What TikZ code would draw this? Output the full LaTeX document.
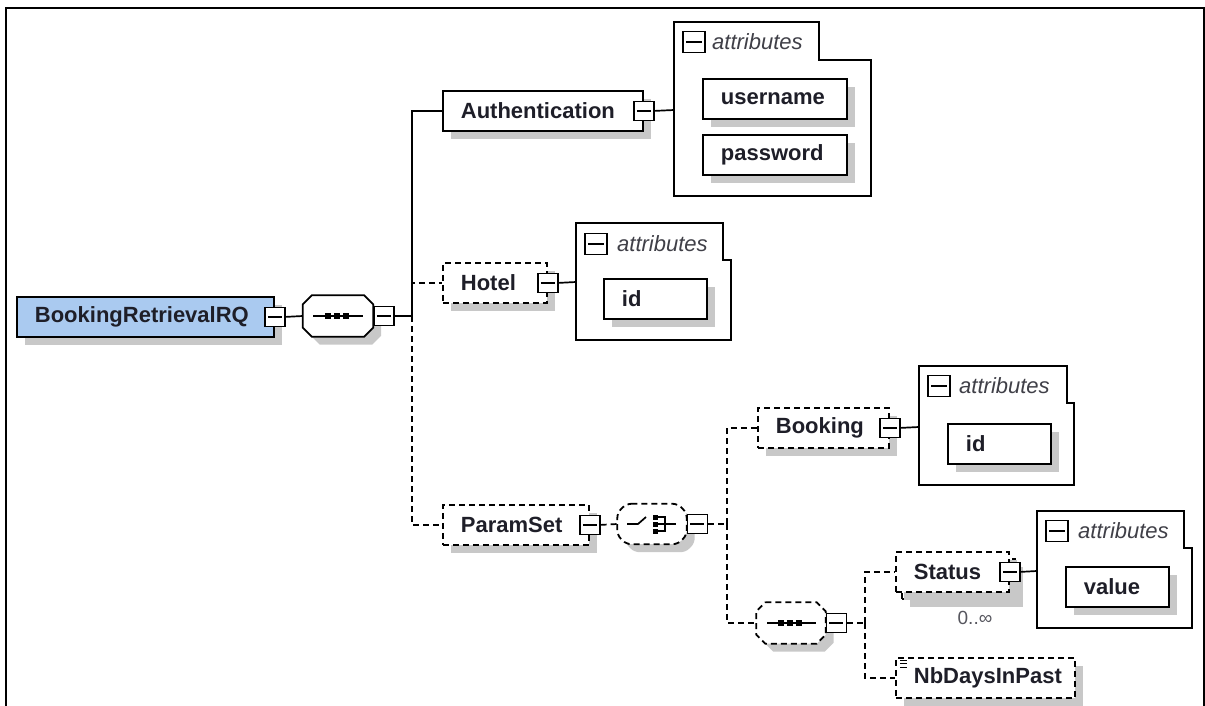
\documentclass[tikz,border=0pt]{standalone}
\usepackage{fontspec}
\setmainfont{Liberation Sans}
\usetikzlibrary{shadows}

\definecolor{rootblue}{RGB}{170,202,240}
\definecolor{shade}{RGB}{200,200,200}
\definecolor{ink}{RGB}{30,30,40}

\newcommand{\elfont}{\fontsize{22}{26}\selectfont\bfseries}
\newcommand{\hdfont}{\fontsize{22}{26}\selectfont\itshape}
% outline of a compositor node, cut at the corners
\newcommand{\compoline}[2]{%
  \draw[#2] ([xshift=9pt]#1.north west) -- ([xshift=-9pt]#1.north east)
    -- ([yshift=-9pt]#1.north east) -- ([yshift=9pt]#1.south east)
    -- ([xshift=-9pt]#1.south east) -- ([xshift=9pt]#1.south west)
    -- ([yshift=9pt]#1.south west) -- ([yshift=-9pt]#1.north west) -- cycle;}

\tikzset{
  boxshade/.style={general shadow={fill=shade, shadow xshift=8pt, shadow yshift=-8pt}},
  elem/.style={draw, line width=1.8pt, fill=white, boxshade, text=ink, font=\elfont,
    anchor=north west, minimum height=40pt, inner xsep=18pt, inner ysep=0pt,
    text width=#1, align=left},
  optelem/.style={elem=#1, dash pattern=on 6pt off 4pt},
  attr/.style={elem=#1},
  tog/.style={draw, line width=1.5pt, fill=white, minimum width=20pt, minimum height=19pt, inner sep=0pt,
    path picture={\draw[line width=1.5pt] ([xshift=3pt]path picture bounding box.west) -- ([xshift=-3pt]path picture bounding box.east);}},
  hdtog/.style={tog, minimum width=22pt, minimum height=21pt},
  compo/.style={minimum width=70pt, minimum height=41pt, inner sep=0pt},
  compobox/.style={line width=1.8pt, fill=white, boxshade},
  optcompobox/.style={compobox, dash pattern=on 6pt off 4pt},
  folder/.style={draw, line width=1.8pt, fill=white},
  hdr/.style={font=\hdfont, text=ink!85, anchor=west, inner sep=0pt},
  link/.style={line width=1.7pt},
  optlink/.style={line width=1.7pt, dash pattern=on 6pt off 4pt},
}

\begin{document}
\begin{tikzpicture}[x=1pt,y=-1pt]
  \useasboundingbox (0,0) rectangle (1205,706);
  \draw[line width=1.8pt] (6,706) -- (6,8) -- (1204,8) -- (1204,706);

  % root element and its sequence
  \node[elem=221pt, fill=rootblue] (root) at (16,296) {BookingRetrievalRQ};
  \node[tog] (rootT) at (root.east) {};
  \node[compo] (seq) at (338,316) {};
  \compoline{seq}{compobox}
  \node[tog, anchor=west] (seqT) at (seq.east) {};
  \draw[link] (rootT.east) -- (seq.west);
  \draw[link] (313,316) -- (363,316);
  \foreach \x in {328,337,346}
    \fill (\x-3,313) rectangle (\x+3,319);

  % children of the sequence
  \coordinate (trunk) at (412,316);
  \draw[link] (seqT.east) -- (trunk);
  \node[elem=164pt] (auth) at (442,90) {Authentication};
  \node[tog] (authT) at (auth.east) {};
  \node[optelem=68pt] (hotel) at (442,262) {Hotel};
  \node[tog] (hotelT) at (hotel.east) {};
  \node[optelem=110pt] (param) at (442,504) {ParamSet};
  \node[tog] (paramT) at (param.east) {};
  \draw[link] (trunk) |- (auth.west);
  \draw[optlink] (trunk) |- (hotel.west);
  \draw[optlink] (trunk) |- (param.west);

  % attributes of Authentication
  \draw[folder] (674,22) -- (819,22) -- (819,60) -- (871,60) -- (871,196) -- (674,196) -- cycle;
  \node[hdtog] (authH) at (694,42) {};
  \node[hdr] (authL) at (712,42) {attributes};
  \node[attr=108pt] (user) at (702,78) {username};
  \node[attr=108pt] (pass) at (702,134) {password};
  \coordinate (authA) at (674,110);
  \draw[link] (authT.east) -- (authA);

  % attributes of Hotel
  \draw[folder] (576,223) -- (723,223) -- (723,260) -- (731,260) -- (731,340) -- (576,340) -- cycle;
  \node[hdtog] (hotelH) at (596,244) {};
  \node[hdr] (hotelL) at (617,244) {attributes};
  \node[attr=67pt] (hotelId) at (603,278) {id};
  \coordinate (hotelA) at (576,282);
  \draw[link] (hotelT.east) -- (hotelA);

  % choice under ParamSet
  \node[compo, minimum width=69pt, minimum height=40pt] (choice) at (652,524) {};
  \compoline{choice}{optcompobox, rounded corners=5pt}
  \node[tog, anchor=west] (choiceT) at (choice.east) {};
  \draw[optlink] (paramT.east) -- (choice.west);
  \draw[link] (627,524) -- (638,524) -- (646,517);
  \foreach \y in {517,524,531}
    \fill (653,\y-2.5) rectangle (658,\y+2.5);
  \draw[link] (658,517) -- (665,517) -- (665,531) -- (658,531) (658,524) -- (676,524);

  \coordinate (sub) at (727,524);
  \draw[optlink] (choiceT.east) -- (sub);
  \node[optelem=95pt] (booking) at (757,407) {Booking};
  \node[tog] (bookingT) at (booking.east) {};
  \node[compo, minimum width=69pt] (seqB) at (791,623) {};
  \compoline{seqB}{optcompobox}
  \node[tog, anchor=west] (seqBT) at (seqB.east) {};
  \draw[optlink] (sub) |- (booking.west);
  \draw[optlink] (sub) |- (seqB.west);
  \draw[link] (767,623) -- (816,623);
  \foreach \x in {781,790,799}
    \fill (\x-3,620) rectangle (\x+3,626);

  % attributes of Booking
  \draw[folder] (919,366) -- (1067,366) -- (1067,403) -- (1074,403) -- (1074,485) -- (919,485) -- cycle;
  \node[hdtog] (bookingH) at (939,386) {};
  \node[hdr] (bookingL) at (959,386) {attributes};
  \node[attr=67pt] (bookingId) at (947,423) {id};
  \coordinate (bookingA) at (919,427);
  \draw[link] (bookingT.east) -- (bookingA);

  % Status and NbDaysInPast
  \coordinate (subB) at (865,623);
  \draw[optlink] (seqBT.east) -- (subB);
  \node[optelem=77pt] (statusBack) at (901,558) {};
  \node[optelem=77pt] (status) at (895,551) {Status};
  \node[tog] (statusT) at (status.east) {};
  \node[font=\fontsize{19}{21}\selectfont, text=ink!75] (statusM) at (975,618) {0..∞};
  \node[optelem=143pt] (nbdays) at (895,657) {\mbox{NbDaysInPast}};
  \foreach \y in {660,663.5,667}
    \draw[line width=1pt] (900,\y) -- (907,\y);
  \draw[optlink] (subB) |- (status.west);
  \draw[optlink] (subB) |- (nbdays.west);

  % attributes of Status
  \draw[folder] (1037,511) -- (1184,511) -- (1184,548) -- (1192,548) -- (1192,628) -- (1037,628) -- cycle;
  \node[hdtog] (statusH) at (1057,531) {};
  \node[hdr] (statusL) at (1078,531) {attributes};
  \node[attr=67pt] (value) at (1065,566) {value};
  \coordinate (statusA) at (1037,571);
  \draw[link] (statusT.east) -- (statusA);
\end{tikzpicture}
\end{document}
